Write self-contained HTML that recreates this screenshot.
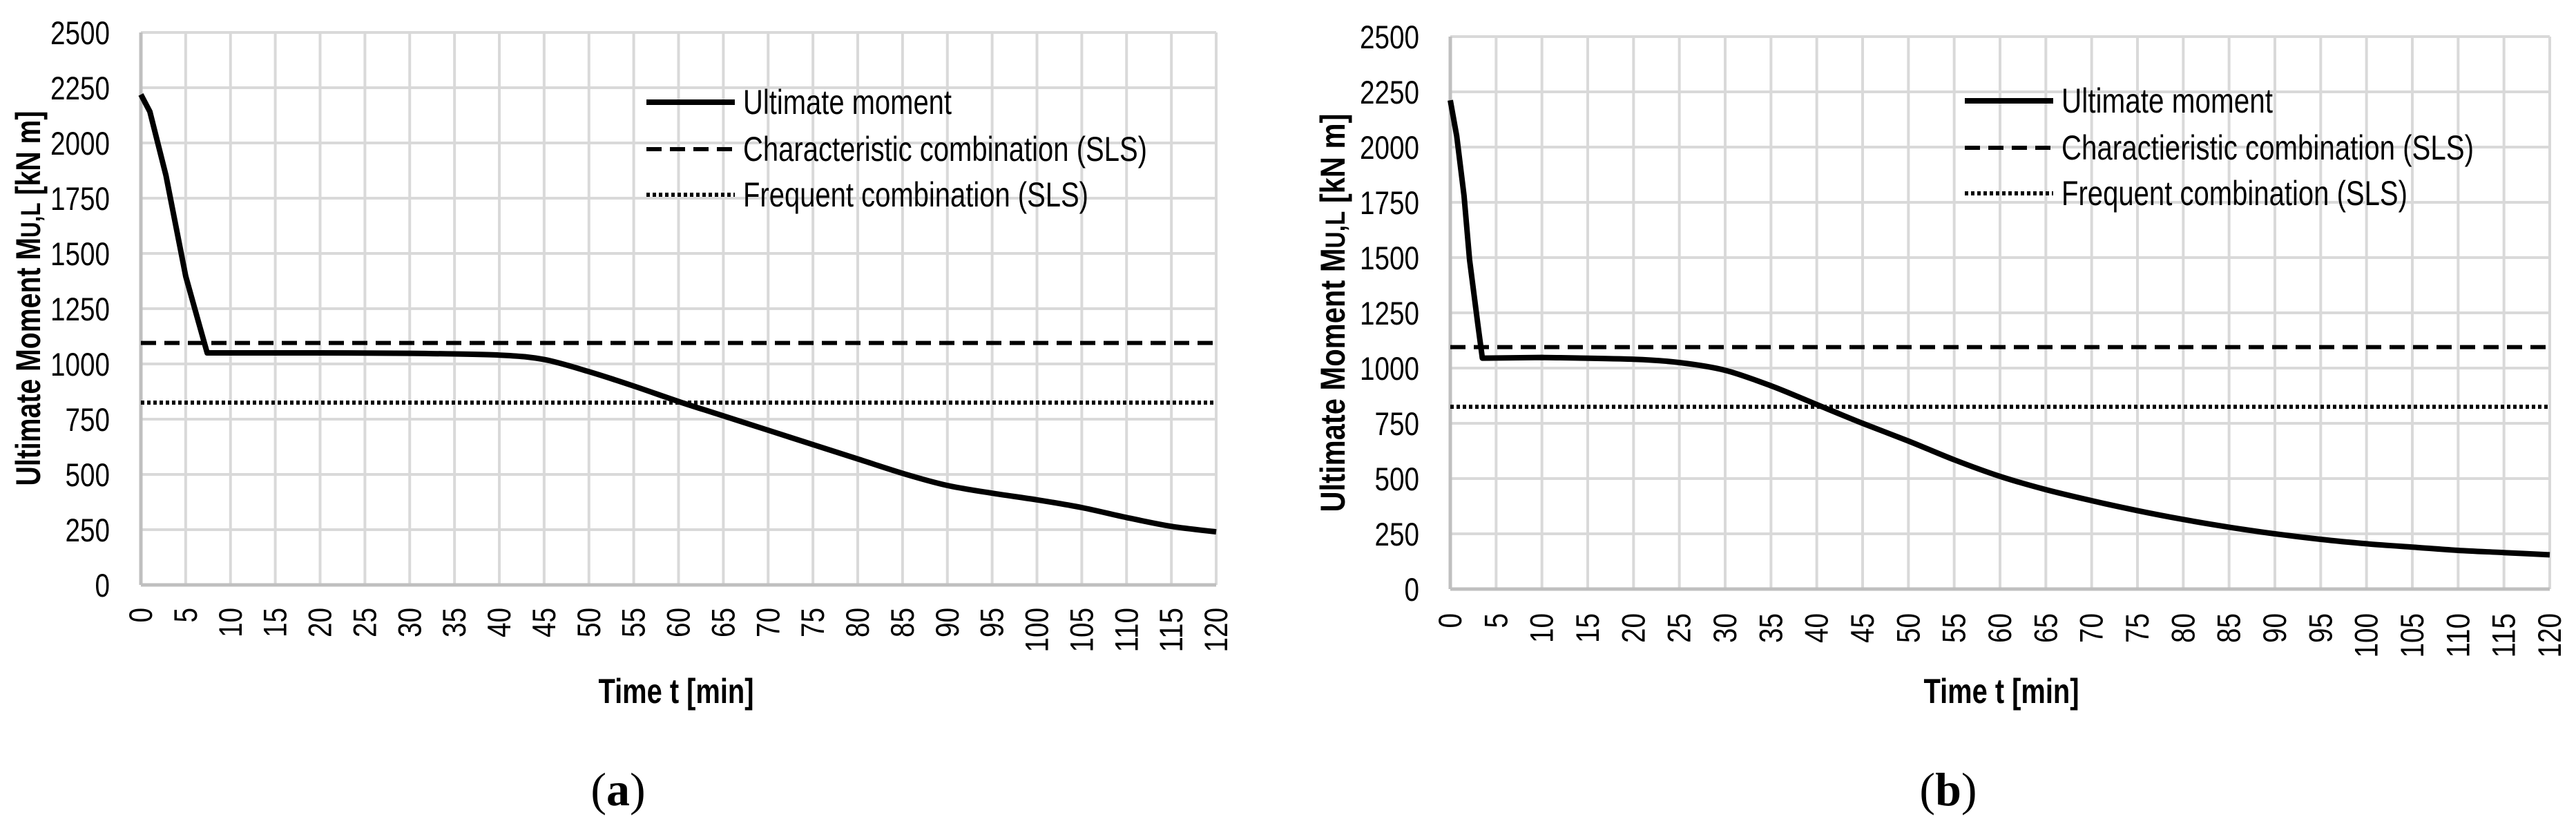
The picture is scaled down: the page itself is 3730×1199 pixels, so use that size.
<!DOCTYPE html>
<html><head><meta charset="utf-8"><style>
html,body{margin:0;padding:0;background:#fff;}
svg{display:block;}
text{font-family:"Liberation Sans",Arial,sans-serif;fill:#000;}
</style></head><body>
<svg id="root" width="3730" height="1199" viewBox="0 0 3730 1199" xmlns="http://www.w3.org/2000/svg"></svg>
<script>
const NS='http://www.w3.org/2000/svg';
const yTicks=[0,250,500,750,1000,1250,1500,1750,2000,2250,2500];
const xTicks=[0,5,10,15,20,25,30,35,40,45,50,55,60,65,70,75,80,85,90,95,100,105,110,115,120];
const timeA=[0,1,2.8,5,6.5,7.4,10,20,30,40,45,50,55,60,65,70,75,80,85,90,95,100,105,110,115,120];
const momentA=[2219,2142,1853,1397,1180,1050,1050,1050,1048,1040,1020,965,900,830,765,700,635,570,505,450,415,385,350,305,265,240];
const timeB=[0,0.7,1.5,2.1,3.0,3.5,10,20,25,30,35,40,45,50,55,60,65,70,75,80,85,90,95,100,105,110,115,120];
const momentB=[2212,2050,1780,1490,1200,1045,1048,1040,1025,990,920,835,750,670,585,510,450,400,355,315,280,250,225,205,190,175,165,155];
const charA=[1095], freqA=[825], charB=[1095], freqB=[825];
const root=document.getElementById('root');
function el(tag,attrs,parent){const e=document.createElementNS(NS,tag);for(const k in attrs)e.setAttribute(k,attrs[k]);(parent||root).appendChild(e);return e;}
function smoothPath(pts,linearUntil){
  let d='M'+pts[0][0].toFixed(1)+','+pts[0][1].toFixed(1);
  for(let i=0;i<pts.length-1;i++){
    const p1=pts[i],p2=pts[i+1];
    if(i<linearUntil){d+=' L'+p2[0].toFixed(1)+','+p2[1].toFixed(1);continue;}
    const p0=pts[Math.max(linearUntil,i-1)],p3=pts[Math.min(pts.length-1,i+2)];
    const k=0.15;
    const c1=[p1[0]+(p2[0]-p0[0])*k,p1[1]+(p2[1]-p0[1])*k];
    const c2=[p2[0]-(p3[0]-p1[0])*k,p2[1]-(p3[1]-p1[1])*k];
    d+=' C'+c1[0].toFixed(1)+','+c1[1].toFixed(1)+' '+c2[0].toFixed(1)+','+c2[1].toFixed(1)+' '+p2[0].toFixed(1)+','+p2[1].toFixed(1);
  }
  return d;
}
function chart(cfg){
  const g=el('g',{});
  
  
  const X=t=>cfg.x0+(t/120)*(cfg.x1-cfg.x0);
  const Y=v=>cfg.y0-(v/2500)*(cfg.y0-cfg.yTop);
  xTicks.forEach(t=>{const l=el('line',{x1:X(t),x2:X(t),y1:Y(0),y2:Y(2500),stroke:'#d9d9d9','stroke-width':4},g);
    });
  yTicks.forEach(v=>{const l=el('line',{x1:X(0),x2:X(120),y1:Y(v),y2:Y(v),stroke:v===0?'#bfbfbf':'#d9d9d9','stroke-width':v===0?5:4},g);
    
    const tx=el('text',{x:cfg.ylabX,y:Y(v)+17,'text-anchor':'end','font-size':47,textLength:String(v).length*21.5,lengthAdjust:'spacingAndGlyphs'},g);
    tx.textContent=v;});
  const ax=el('line',{x1:X(0),x2:X(0),y1:Y(0),y2:Y(2500),stroke:'#bfbfbf','stroke-width':5},g);
  
  xTicks.forEach(t=>{const xx=X(t)+16;const tx=el('text',{x:xx,y:cfg.xlabY,'text-anchor':'end','font-size':47,transform:`rotate(-90 ${xx} ${cfg.xlabY})`,textLength:String(t).length*21.5,lengthAdjust:'spacingAndGlyphs'},g);
    tx.textContent=t;});
  const c=el('line',{x1:X(0),x2:X(120),y1:Y(cfg.charV[0]),y2:Y(cfg.charV[0]),stroke:'#000','stroke-width':6,'stroke-dasharray':'22,12'},g);
  
  const f=el('line',{x1:X(0),x2:X(120),y1:Y(cfg.freqV[0]),y2:Y(cfg.freqV[0]),stroke:'#000','stroke-width':6,'stroke-dasharray':'5,4'},g);
  
  const pts=cfg.times.map((t,i)=>[X(t),Y(cfg.vals[i])]);
  const p=el('path',{d:smoothPath(pts,cfg.linearUntil),fill:'none',stroke:'#000','stroke-width':8,'stroke-linejoin':'round'},g);
  
  const lg=el('g',{},g);
  const styles=[{w:8,da:''},{w:6,da:'22,12'},{w:6,da:'5,4'}];
  cfg.legend.forEach((s,i)=>{const yy=cfg.legY[i];
    const l=el('line',{x1:cfg.legX,x2:cfg.legX+128,y1:yy,y2:yy,stroke:'#000','stroke-width':styles[i].w},lg);
    if(styles[i].da)l.setAttribute('stroke-dasharray',styles[i].da);
    
    const tx=el('text',{x:cfg.legX+140,y:yy+17,'font-size':50,textLength:cfg.legW[i],lengthAdjust:'spacingAndGlyphs'},lg);
    tx.textContent=s;});
  const yt=el('text',{x:0,y:0,'font-size':50,'font-weight':'bold','text-anchor':'middle',textLength:cfg.ytLen,lengthAdjust:'spacingAndGlyphs',transform:`translate(${cfg.ytX},${cfg.ytY}) rotate(-90)`},g);
  yt.innerHTML='Ultimate Moment M<tspan font-size="40">U,L</tspan> [kN m]';
  
  const xt=el('text',{x:cfg.xtX,y:1018,'font-size':50,'font-weight':'bold','text-anchor':'middle',textLength:225,lengthAdjust:'spacingAndGlyphs'},g);
  xt.textContent='Time t [min]';
  const cap=el('text',{x:cfg.capX,y:1166,'font-size':68,'text-anchor':'middle',style:'font-family:"Liberation Serif",serif'},g);
  cap.innerHTML=cfg.cap;
}
chart({name:'chart-a',x0:204,x1:1761,y0:847,yTop:47,ylabX:159,xlabY:880,times:timeA,vals:momentA,charV:charA,freqV:freqA,linearUntil:6,
  legend:['Ultimate moment','Characteristic combination (SLS)','Frequent combination (SLS)'],legW:[302,585,500],legX:936,legY:[148,216,282],
  ytX:58,ytY:432,ytLen:543,xtX:979,capX:895,cap:'(<tspan font-weight="bold">a</tspan>)'});
chart({name:'chart-b',x0:2100,x1:3692,y0:853,yTop:53,ylabX:2055,xlabY:888,times:timeB,vals:momentB,charV:charB,freqV:freqB,linearUntil:6,
  legend:['Ultimate moment','Charactieristic combination (SLS)','Frequent combination (SLS)'],legW:[306,597,501],legX:2845,legY:[146,214,280],
  ytX:1947,ytY:453,ytLen:577,xtX:2898,capX:2821,cap:'(<tspan font-weight="bold">b</tspan>)'});
</script>
</body></html>
